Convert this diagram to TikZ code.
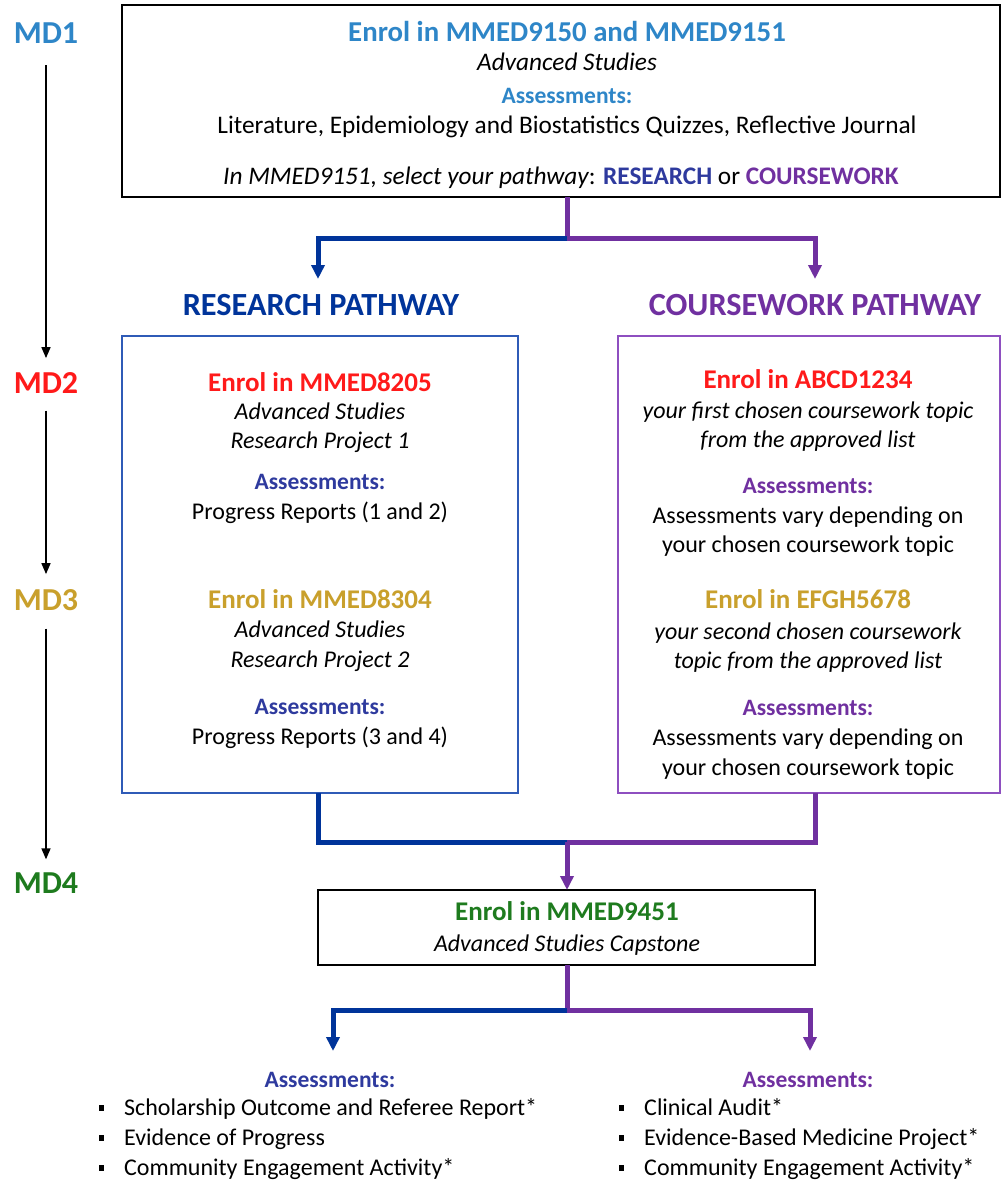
\documentclass[tikz,border=0pt]{standalone}
\usepackage{fontspec}
\setmainfont{Carlito}
\usetikzlibrary{arrows.meta}
\definecolor{mdblue}{HTML}{2E86C8}
\definecolor{resblue}{HTML}{00349A}
\definecolor{purp}{HTML}{7030A0}
\definecolor{mdred}{HTML}{FF1A1A}
\definecolor{gold}{HTML}{C9A02C}
\definecolor{mdgreen}{HTML}{1E7B1E}
\definecolor{assblue}{HTML}{2E3A9E}
\definecolor{boxblue}{HTML}{2F5BB7}
\definecolor{boxpurp}{HTML}{8E4FC0}
\begin{document}
\begin{tikzpicture}[x=1pt,y=-1pt,
  body/.style={font=\fontsize{24}{29}\selectfont, anchor=base, yshift=-7.7pt, inner sep=0pt},
  bodyit/.style={font=\fontsize{24}{29}\selectfont\itshape, anchor=base, yshift=-7.7pt, inner sep=0pt},
  topbody/.style={font=\fontsize{25.3}{30}\selectfont, anchor=base, yshift=-8pt, inner sep=0pt},
  assess/.style={font=\fontsize{23.5}{29}\selectfont\bfseries, anchor=base, yshift=-7.6pt, inner sep=0pt},
  head/.style={font=\fontsize{27}{32}\selectfont\bfseries, anchor=base, yshift=-8.7pt, inner sep=0pt},
  tophead/.style={font=\fontsize{28.8}{34}\selectfont\bfseries, anchor=base, yshift=-9.2pt, inner sep=0pt},
  mdlab/.style={font=\fontsize{32}{38}\selectfont\bfseries, anchor=base, yshift=-10.3pt, inner sep=0pt},
  pathlab/.style={font=\fontsize{32.3}{38}\selectfont\bfseries, anchor=base, yshift=-10.3pt, inner sep=0pt},
  listitem/.style={font=\fontsize{24}{29}\selectfont, anchor=base west, yshift=-7.7pt, inner sep=0pt},
  bul/.style={fill=black, minimum width=5pt, minimum height=6pt, inner sep=0pt},
  bigbox/.style={draw, anchor=north west, inner sep=0pt, outer sep=0pt},
  conn/.style={line width=5pt},
  tip/.style={-{Triangle[width=13pt,length=14pt]}},
  tline/.style={line width=1.6pt, -{Triangle[width=9pt,length=11pt]}}
]
\useasboundingbox (0,0) rectangle (1004,1180);
\fill[white] (0,0) rectangle (1004,1180);

% ---------- timeline ----------
\node[mdlab, text=mdblue] (md1) at (46,33) {MD1};
\node[mdlab, text=mdred] (md2) at (46,383) {MD2};
\node[mdlab, text=gold] (md3) at (46,600) {MD3};
\node[mdlab, text=mdgreen] (md4) at (46,883) {MD4};
\draw[tline, shorten <=22pt, shorten >=14pt] (md1.south) -- (md2.north);
\draw[tline, shorten <=17pt, shorten >=15pt] (md2.south) -- (md3.north);
\draw[tline, shorten <=18pt, shorten >=13pt] (md3.south) -- (md4.north);

% ---------- top box ----------
\node[bigbox, line width=2pt, minimum width=878pt, minimum height=192pt] (top) at (122,5) {};
\node[tophead, text=mdblue] (t1) at (567,32) {Enrol in MMED9150 and MMED9151};
\node[topbody, font=\fontsize{25.3}{30}\selectfont\itshape] (t2) at (567,63) {Advanced Studies};
\node[assess, text=mdblue] (t3) at (567,96) {Assessments:};
\node[topbody] (t4) at (567,126) {Literature, Epidemiology and Biostatistics Quizzes, Reflective Journal};
\node[topbody] (t5) at (561,176) {\itshape In MMED9151, select your pathway\upshape: {\bfseries\color{assblue}RESEARCH} or {\bfseries\color{purp}COURSEWORK}};

% ---------- split ----------
\coordinate (j1) at (567,238);
\node[pathlab, text=resblue] (rp) at (321,305) {RESEARCH PATHWAY};
\node[pathlab, text=purp] (cp) at (815,305) {COURSEWORK PATHWAY};
\coordinate (a1) at (318,279);
\coordinate (a2) at (815,279);
\draw[conn, purp] (j1 |- top.south) -- (j1);
\draw[conn, resblue, tip] (j1) -| (a1);
\draw[conn, purp, tip] (j1) -| (a2);

% ---------- pathway boxes ----------
\node[bigbox, draw=boxblue, line width=1.6pt, minimum width=396pt, minimum height=457pt] (lbox) at (122,336) {};
\node[bigbox, draw=boxpurp, line width=1.6pt, minimum width=382pt, minimum height=457pt] (rbox) at (618,336) {};

\node[head, text=mdred] (l1) at (320,383) {Enrol in MMED8205};
\node[bodyit] (l2) at (320,412) {Advanced Studies};
\node[bodyit] (l3) at (320,441) {Research Project 1};
\node[assess, text=assblue] (l4) at (320,482) {Assessments:};
\node[body] (l5) at (320,512) {Progress Reports (1 and 2)};
\node[head, text=gold] (l6) at (320,600) {Enrol in MMED8304};
\node[bodyit] (l7) at (320,630) {Advanced Studies};
\node[bodyit] (l8) at (320,660) {Research Project 2};
\node[assess, text=assblue] (l9) at (320,707) {Assessments:};
\node[body] (l10) at (320,737) {Progress Reports (3 and 4)};

\node[head, text=mdred] (r1) at (808,380) {Enrol in ABCD1234};
\node[bodyit] (r2) at (808,411) {your first chosen coursework topic};
\node[bodyit] (r3) at (808,440) {from the approved list};
\node[assess, text=purp] (r4) at (808,486) {Assessments:};
\node[body] (r5) at (808,516) {Assessments vary depending on};
\node[body] (r6) at (808,545) {your chosen coursework topic};
\node[head, text=gold] (r7) at (808,600) {Enrol in EFGH5678};
\node[bodyit] (r8) at (808,632) {your second chosen coursework};
\node[bodyit] (r9) at (808,661) {topic from the approved list};
\node[assess, text=purp] (r10) at (808,708) {Assessments:};
\node[body] (r11) at (808,738) {Assessments vary depending on};
\node[body] (r12) at (808,768) {your chosen coursework topic};

% ---------- merge ----------
\coordinate (j2) at (567,842);
\node[bigbox, line width=2pt, minimum width=497pt, minimum height=75pt] (cap) at (318,890) {};
\node[head, text=mdgreen] (c1) at (567,912) {Enrol in MMED9451};
\node[bodyit] (c2) at (567,944) {Advanced Studies Capstone};
\draw[conn, resblue] ([xshift=-2pt]lbox.south) |- (j2);
\draw[conn, purp] ([xshift=6pt]rbox.south) |- (j2);
\draw[conn, purp, tip] (j2) -- (j2 |- cap.north);

% ---------- final split ----------
\coordinate (j3) at (567,1010);
\coordinate (b1) at (333,1051);
\coordinate (b2) at (810,1051);
\draw[conn, purp] (j3 |- cap.south) -- (j3);
\draw[conn, resblue, tip] (j3) -| (b1);
\draw[conn, purp, tip] (j3) -| (b2);

\node[assess, text=assblue] (la) at (330,1080) {Assessments:};
\node[bul] (lb1) at (101,1108) {};
\node[bul] (lb2) at (101,1138) {};
\node[bul] (lb3) at (101,1168) {};
\node[listitem] (li1) at (124,1108) {Scholarship Outcome and Referee Report*};
\node[listitem] (li2) at (124,1138) {Evidence of Progress};
\node[listitem] (li3) at (124,1168) {Community Engagement Activity*};

\node[assess, text=purp] (ra) at (808,1080) {Assessments:};
\node[bul] (rb1) at (621,1108) {};
\node[bul] (rb2) at (621,1138) {};
\node[bul] (rb3) at (621,1168) {};
\node[listitem] (ri1) at (644,1108) {Clinical Audit*};
\node[listitem] (ri2) at (644,1138) {Evidence-Based Medicine Project*};
\node[listitem] (ri3) at (644,1168) {Community Engagement Activity*};
\end{tikzpicture}
\end{document}
